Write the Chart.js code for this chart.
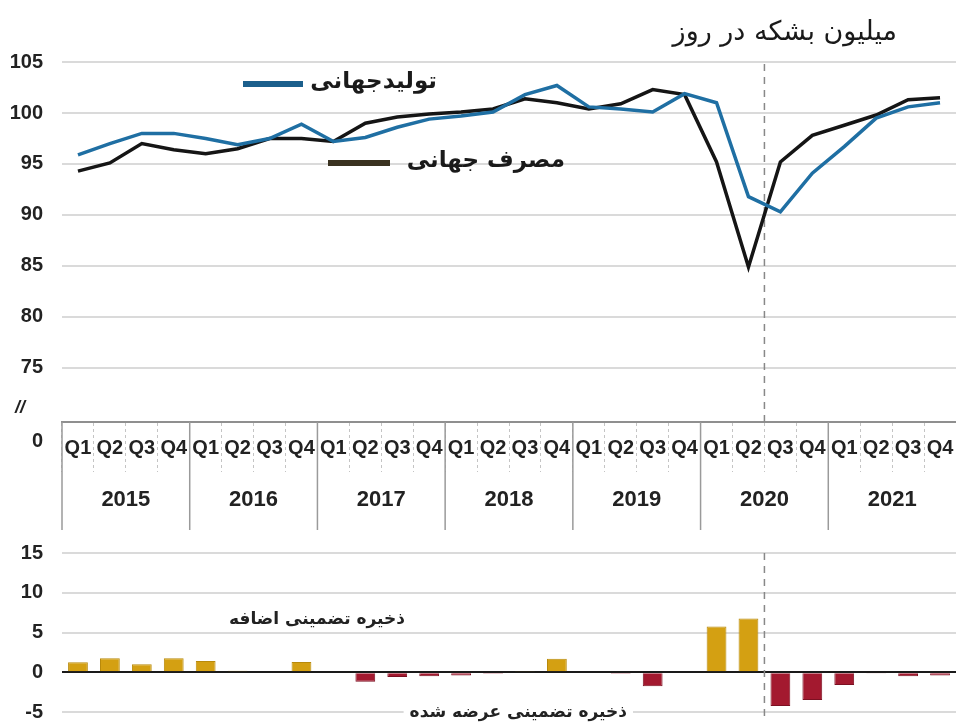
<!DOCTYPE html>
<html>
<head>
<meta charset="utf-8">
<script src="https://cdn.jsdelivr.net/npm/chart.js@4.4.0/dist/chart.umd.min.js"></script>
<style>
  body { margin: 0; background: #fff; }
  #top { position: absolute; left: 0; top: 0; }
  #bottom { position: absolute; left: 0; top: 530px; }
</style>
</head>
<body>
<canvas id="top" width="956" height="530"></canvas>
<canvas id="bottom" width="956" height="197"></canvas>
<script>
const years = ['2015', '2016', '2017', '2018', '2019', '2020', '2021'];
const quarters = ['Q1', 'Q2', 'Q3', 'Q4'];

// world production / consumption, million barrels per day
const production = [95.9, 97.0, 98.0, 98.0, 97.5, 96.9, 97.5, 98.9,
                    97.2, 97.6, 98.6, 99.4, 99.7, 100.1, 101.8, 102.7,
                    100.6, 100.4, 100.1, 101.9, 101.0, 91.8, 90.3, 94.1,
                    96.7, 99.5, 100.6, 101.0];
const consumption = [94.3, 95.1, 97.0, 96.4, 96.0, 96.5, 97.5, 97.5,
                     97.2, 99.0, 99.6, 99.9, 100.1, 100.4, 101.4, 101.0,
                     100.4, 100.9, 102.3, 101.8, 95.2, 84.9, 95.2, 97.8,
                     98.8, 99.8, 101.3, 101.5];
// implied stock change
const stockChange = [1.25, 1.75, 1.0, 1.75, 1.4, 0.2, 0, 1.3,
                     0, -1.2, -0.6, -0.5, -0.4, -0.2, 0.1, 1.7,
                     0, -0.2, -1.75, 0, 5.75, 6.75, -4.25, -3.5,
                     -1.6, -0.1, -0.5, -0.4];
const yTicks = [75, 80, 85, 90, 95, 100, 105];

const labels = [];
years.forEach(y => quarters.forEach(q => labels.push(q)));

const tickFont = { family: "'Liberation Sans', Arial", size: 20, weight: 'bold' };
const faFont = "'DejaVu Sans', sans-serif";

function fixWidth(scale) { scale.width = 62; }

// dashed line between 2020 Q2 and Q3
function covidLine(chart, y0, y1) {
  const x = chart.scales.x;
  const px = (x.getPixelForValue(21) + x.getPixelForValue(22)) / 2;
  const ctx = chart.ctx;
  ctx.save();
  ctx.strokeStyle = '#888';
  ctx.lineWidth = 1.5;
  ctx.setLineDash([7, 6]);
  ctx.beginPath();
  ctx.moveTo(px, y0);
  ctx.lineTo(px, y1);
  ctx.stroke();
  ctx.restore();
}

const topDecor = {
  id: 'topDecor',
  beforeDatasetsDraw(chart) {
    covidLine(chart, chart.chartArea.top + 2, chart.chartArea.bottom + 2);
  },
  afterDraw(chart) {
    const ctx = chart.ctx;
    const x = chart.scales.x;
    const area = chart.chartArea;
    ctx.save();
    // year separators and labels
    ctx.strokeStyle = '#9a9a9a';
    ctx.lineWidth = 1.5;
    ctx.fillStyle = '#222';
    ctx.font = "bold 22px 'Liberation Sans', Arial";
    ctx.textAlign = 'center';
    ctx.textBaseline = 'middle';
    years.forEach((yr, k) => {
      const i = k * 4;
      const left = i === 0 ? area.left : (x.getPixelForValue(i - 1) + x.getPixelForValue(i)) / 2;
      ctx.beginPath();
      ctx.moveTo(left, area.bottom);
      ctx.lineTo(left, chart.height);
      ctx.stroke();
      const mid = (x.getPixelForValue(i + 1) + x.getPixelForValue(i + 2)) / 2;
      ctx.fillText(yr, mid, 500);
    });
    // axis break and zero
    ctx.font = "bold italic 18px 'Liberation Sans', Arial";
    ctx.fillText('//', 20, 408);
    ctx.font = "bold 20px 'Liberation Sans', Arial";
    ctx.textAlign = 'right';
    ctx.fillText('0', 43, 441);
    // unit title
    ctx.font = '27px ' + faFont;
    ctx.direction = 'rtl';
    ctx.textAlign = 'right';
    ctx.fillStyle = '#1a1a1a';
    ctx.fillText('میلیون بشکه در روز', 897, 33);
    // legend
    ctx.font = 'bold 23px ' + faFont;
    ctx.fillText('تولیدجهانی', 437, 82);
    ctx.fillText('مصرف جهانی', 565, 161);
    ctx.restore();
    ctx.save();
    ctx.lineWidth = 6;
    ctx.strokeStyle = '#1b5f8c';
    ctx.beginPath(); ctx.moveTo(243, 84); ctx.lineTo(303, 84); ctx.stroke();
    ctx.strokeStyle = '#3a3220';
    ctx.beginPath(); ctx.moveTo(328, 163); ctx.lineTo(390, 163); ctx.stroke();
    ctx.restore();
  }
};

new Chart(document.getElementById('top'), {
  type: 'line',
  data: {
    labels: labels,
    datasets: [
      { label: 'تولیدجهانی', data: production, borderColor: '#1f6fa3', borderWidth: 3.5,
        pointRadius: 0, tension: 0, fill: false },
      { label: 'مصرف جهانی', data: consumption, borderColor: '#151515', borderWidth: 3.5,
        pointRadius: 0, tension: 0, fill: false }
    ]
  },
  options: {
    responsive: false,
    animation: false,
    layout: { padding: { top: 62, right: 0, left: 0, bottom: 0 } },
    plugins: { legend: { display: false }, tooltip: { enabled: false } },
    scales: {
      x: {
        offset: true,
        border: { display: true, color: '#8f8f8f', width: 2 },
        grid: { offset: true, drawOnChartArea: false, drawTicks: true, tickLength: 50,
                color: '#c4c4c4', tickBorderDash: [3, 3] },
        ticks: { autoSkip: false, maxRotation: 0, padding: -36, color: '#222', font: tickFont },
        afterFit(scale) { scale.height = 108; }
      },
      y: {
        min: 69.7,
        max: 105,
        afterBuildTicks(scale) { scale.ticks = yTicks.map(v => ({ value: v })); },
        afterFit: fixWidth,
        border: { display: false },
        grid: { color: '#dadada', lineWidth: 2, drawTicks: true, tickLength: 19, tickColor: 'rgba(0,0,0,0)' },
        ticks: { padding: 0, color: '#222', font: tickFont }
      }
    }
  },
  plugins: [topDecor]
});

const bottomDecor = {
  id: 'bottomDecor',
  beforeDatasetsDraw(chart) {
    covidLine(chart, chart.chartArea.top, chart.chartArea.bottom + 6);
  },
  afterDraw(chart) {
    const ctx = chart.ctx;
    ctx.save();
    ctx.font = 'bold 17px ' + faFont;
    ctx.direction = 'rtl';
    ctx.textAlign = 'right';
    ctx.textBaseline = 'middle';
    // white box so the -5 gridline stops behind the lower note
    const w = ctx.measureText('ذخیره تضمینی عرضه شده').width;
    ctx.fillStyle = '#fff';
    ctx.fillRect(627 - w - 6, 173, w + 12, 22);
    ctx.fillStyle = '#222';
    ctx.fillText('ذخیره تضمینی اضافه', 405, 90);
    ctx.fillText('ذخیره تضمینی عرضه شده', 627, 183);
    ctx.restore();
  }
};

new Chart(document.getElementById('bottom'), {
  type: 'bar',
  data: {
    labels: labels,
    datasets: [{
      data: stockChange,
      backgroundColor: c => (c.raw >= 0 ? '#d4a012' : '#a3192f'),
      borderColor: c => (c.raw >= 0 ? '#b88a0c' : '#7c1022'),
      borderWidth: 1,
      categoryPercentage: 1,
      barPercentage: 0.62
    }]
  },
  options: {
    responsive: false,
    animation: false,
    layout: { padding: { top: 23, bottom: 15, left: 0, right: 0 } },
    plugins: { legend: { display: false }, tooltip: { enabled: false } },
    scales: {
      x: {
        offset: true,
        border: { display: false },
        grid: { display: false, drawTicks: false },
        ticks: { display: false },
        afterFit(scale) { scale.height = 0; }
      },
      y: {
        min: -5,
        max: 15,
        ticks: { stepSize: 5, padding: 0, color: '#222', font: tickFont },
        afterFit: fixWidth,
        border: { display: false },
        grid: {
          drawTicks: true,
          tickLength: 19,
          tickColor: 'rgba(0,0,0,0)',
          color: c => (c.tick.value === 0 ? '#1a1a1a' : '#dadada'),
          lineWidth: 2
        }
      }
    }
  },
  plugins: [bottomDecor]
});
</script>
</body>
</html>
